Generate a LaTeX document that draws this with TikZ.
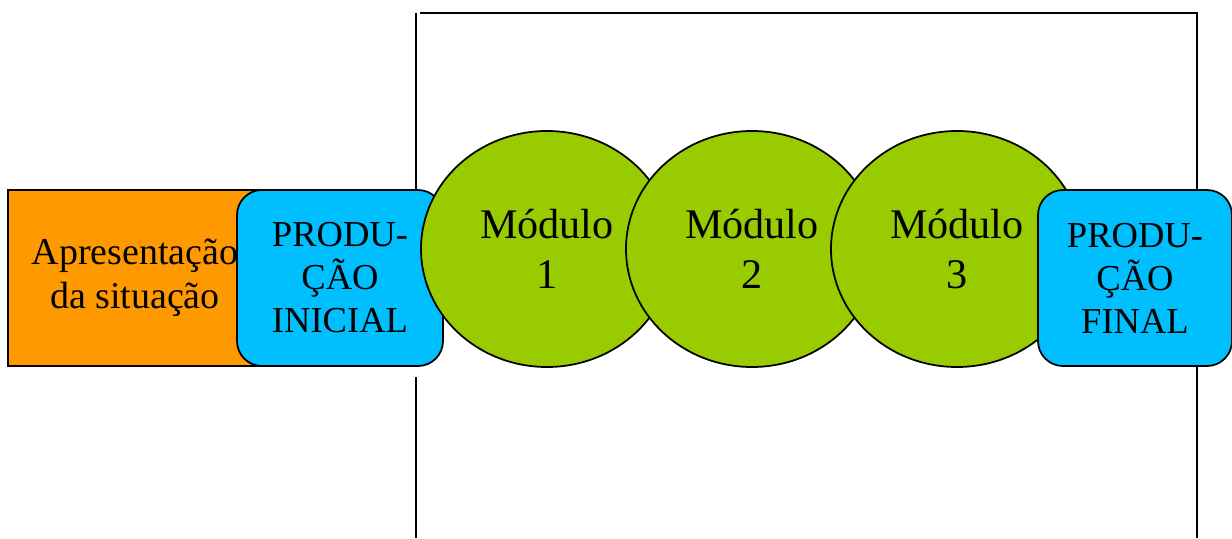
\documentclass[tikz,border=0pt]{standalone}
\usepackage{fontspec}
\setmainfont{Liberation Serif}
\usetikzlibrary{shapes.geometric}
\definecolor{laranja}{HTML}{FF9900}
\definecolor{azul}{HTML}{00BFFF}
\definecolor{verde}{HTML}{99CC00}
\begin{document}
\begin{tikzpicture}
      \tikzset{etapa/.style={draw, line width=1pt, rectangle, align=center, inner sep=0pt, minimum height=3.52cm, font=\fontsize{20.8}{24.5}\selectfont},
               producao/.style={etapa, rounded corners=.5cm, fill=azul, minimum width=4.12cm},
               modulo/.style={draw, line width=1pt, ellipse, fill=verde, align=center, inner sep=0pt, minimum width=5.04cm, minimum height=4.72cm, font=\fontsize{24}{28.5}\selectfont},
               moldura/.style={line width=1.1pt}}
      \useasboundingbox (0,0) rectangle (24.64,10.76);
%% Moldura
	%pontos
		\coordinate (es) at (8.32,10.50);
		\coordinate (eh) at (8.40,10.50);
		\coordinate (em) at (8.32,6.96);
		\coordinate (eb) at (8.32,3.22);
		\coordinate (ef) at (8.32,0);
		\coordinate (ds) at (23.94,10.50);
		\coordinate (df) at (23.94,0);
	%linhas
		\draw [moldura] (es) -- (em);
		\draw [moldura] (eb) -- (ef);
		\draw [moldura] (eh) -- (ds) -- (df);
%% Etapas
      	\node[etapa, fill=laranja, minimum width=5.08cm, font=\fontsize{21.6}{25}\selectfont] (apres) at (2.70,5.20) {Apresentação\\da situação};
     	\node[producao] (inicial) at (6.80,5.20) {PRODU-\\ÇÃO\\INICIAL};
	%modulos
     	\node[modulo] (mod1) at (10.94,5.78) {Módulo\\1};
     	\node[modulo] (mod2) at (15.04,5.78) {Módulo\\2};
     	\node[modulo] (mod3) at (19.14,5.78) {Módulo\\3};
     	\node[producao, minimum width=3.88cm] (final) at (22.70,5.20) {PRODU-\\ÇÃO\\FINAL};
\end{tikzpicture}
\end{document}
